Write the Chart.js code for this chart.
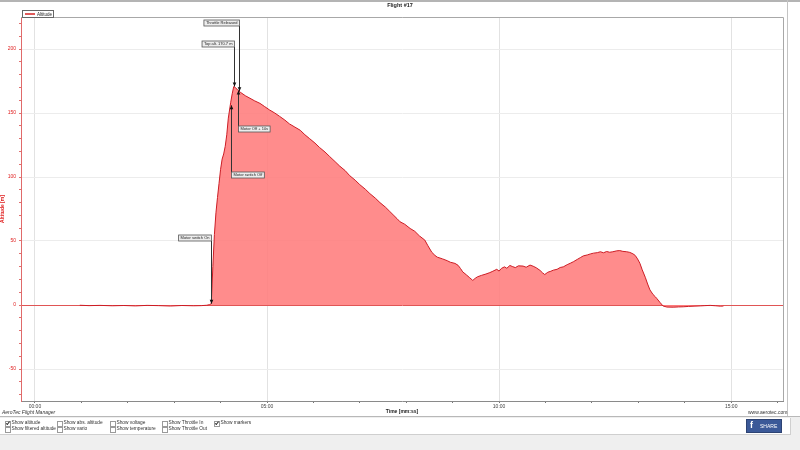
<!DOCTYPE html>
<html><head><meta charset="utf-8">
<script src="https://cdn.jsdelivr.net/npm/chart.js@4.4.0/dist/chart.umd.min.js"></script>
<style>
html,body{margin:0;padding:0;width:800px;height:450px;overflow:hidden;background:#fff;font-family:"Liberation Sans",Arial,sans-serif;}
#c{position:absolute;left:0;top:0;}
.t{position:absolute;white-space:nowrap;line-height:1;}
#topbar{position:absolute;left:0;top:0;width:800px;height:2px;background:#b4b4b4;}
#title{left:0;width:800px;text-align:center;top:3px;font-size:5.5px;font-weight:bold;color:#222;}
#legend{position:absolute;left:22px;top:10px;width:30px;height:6px;border:1px solid #666;background:#fff;}
#legend .sw{position:absolute;left:2px;top:2px;width:10px;height:2px;background:#e05a5a;}
#legend .lt{position:absolute;left:14px;top:0.5px;font-size:4.5px;color:#222;}
#rline{position:absolute;left:787px;top:0;width:1px;height:416px;background:#c4c4c4;}
#brand{left:2px;top:410px;font-size:5px;font-style:italic;color:#333;}
#www{left:748px;top:410px;font-size:5px;color:#333;}
#panel{position:absolute;left:0;top:416px;width:800px;height:34px;background:#efefef;border-top:1px solid #b8b8b8;}
#cb{position:absolute;left:0;top:1px;width:790px;height:16px;background:#fff;border-bottom:1px solid #cfcfcf;border-right:1px solid #cfcfcf;}
.ck{position:absolute;width:4px;height:4px;border:1px solid #9a9a9a;background:#fff;}
.ck.on::after{content:"";position:absolute;left:1px;top:-0.5px;width:1.2px;height:2.6px;border:solid #333;border-width:0 1px 1px 0;transform:rotate(40deg);}
.cl{position:absolute;font-size:4.8px;color:#333;white-space:nowrap;line-height:1;}
#fb{position:absolute;left:746px;top:419px;width:34px;height:12px;background:#3b5998;border:1px solid #2d4373;}
#fb .f{position:absolute;left:3px;top:1px;font-size:9px;font-weight:bold;color:#fff;font-family:"Liberation Sans",Arial,sans-serif;line-height:1;}
#fb .s{position:absolute;left:13px;top:3.5px;font-size:5px;color:#fff;line-height:1;}
</style></head>
<body>
<div id="topbar"></div>
<canvas id="c" width="800" height="416"></canvas>
<div class="t" id="title">Flight #17</div>
<div id="legend"><div class="sw"></div><div class="lt">Altitude</div></div>
<div id="rline"></div>
<div class="t" id="brand">AeroTec Flight Manager</div>
<div class="t" id="www">www.aerotec.com</div>
<div id="panel"><div id="cb"></div></div>
<div id="fb"><span class="f">f</span><span class="s">SHARE</span></div>
<script>
// ---------------- data ----------------
const times = [58,70,84,100,115,130,145,160,175,190,205,215,222,226,228,
  230,232,234,236,238,240,242,244,246,248,250,251,253,255,257,
  259,262,266,272,278,284,291,297,303,310,316,323,329,336,343,349,355,362,368,375,381,388,394,401,407,414,420,427,433,440,446,453,458,463,468,472,
  478,485,491,497,504,508,513,517,520,527,533,537,543,547,550,553,558,562,566,569,572,577,583,588,592,597,600,603,607,610,614,617,621,625,631,635,640,644,648,653,656,659,
  663,667,670,675,679,683,688,692,696,701,705,709,714,718,722,727,731,735,739,743,747,752,756,760,765,769,773,776,779,782,785,789,792,795,799,802,804,808,812,817,825,832,838,845,852,860,866,873,880,886,890];
const altitude = [-0.2,-0.5,-0.3,-0.6,-0.4,-0.7,-0.3,-0.5,-0.8,-0.4,-0.6,-0.5,-0.2,0.3,1.2,
  30,55,72,84,95,106,114,118,124,133,146,150,158,165,170.7,
  170,168,166,163.5,161.5,159.5,157.5,155,152.5,150,147.5,144.5,141.5,139,136.5,133,130,126.5,123,119.5,116,112,108.5,105,101,97.5,94,90.5,87,83.5,80,76.5,73.5,70.5,67.5,65,
  63.1,59.8,57.6,54.0,50.7,46.3,41.2,38.8,37.4,36.0,34.6,33.4,32.5,31.0,28.6,25.9,23.4,21.3,19.2,20.8,22.0,23.1,24.2,25.3,26.4,27.9,26.5,28.6,29.8,28.7,30.9,30.1,29.2,30.6,30.4,29.5,31.2,30.3,29.1,27.0,25.2,23.8,
  25.6,26.4,27.2,27.9,29.3,29.8,31.5,32.6,33.8,35.6,37.0,38.4,39.1,39.9,40.5,40.9,41.6,40.8,41.8,41.2,41.6,42.3,42.5,41.9,41.6,41.1,40.0,38.7,36.0,32.6,27.5,21.6,16.4,11.8,8.2,6.4,5.0,2.0,-0.8,-1.6,-1.7,-1.5,-1.4,-1.1,-0.9,-0.7,-0.5,-0.3,-0.6,-0.9,-0.8];

const markerTimes  = [228, 253, 263, 257, 264];
const markerAlts   = [1, 156, 167.5, 170.7, 167];
const markerLabels = ['Motor switch On', 'Motor switch Off', 'Motor Off + 10s', 'Top alt. 170.7 m', 'Throttle Released'];

const xLabelTicks = [0, 300, 600, 900];       // labelled time ticks (s)
const yLabelTicks = [-50, 0, 50, 100, 150, 200];

// ---------------- layout / style (not data) ----------------
const markerBoxY    = [238, 175, 129, 44, 23];
const markerBoxSide = ['left', 'right', 'right', 'left', 'left'];

// checkboxes panel
const cbItems = [
  ['Show altitude', true, 5, 421], ['Show abs. altitude', false, 57, 421], ['Show voltage', false, 110, 421], ['Show Throttle In', false, 162, 421], ['Show markers', true, 214, 421],
  ['Show filtered altitude', false, 5, 427], ['Show vario', false, 57, 427], ['Show temperature', false, 110, 427], ['Show Throttle Out', false, 162, 427]
];
const cb = document.body;
cbItems.forEach(([txt, on, x, y]) => {
  const b = document.createElement('div'); b.className = 'ck' + (on ? ' on' : '');
  b.style.left = x + 'px'; b.style.top = (y - 0.5) + 'px'; cb.appendChild(b);
  const l = document.createElement('div'); l.className = 'cl'; l.textContent = txt;
  l.style.left = (x + 6.5) + 'px'; l.style.top = (y) + 'px'; cb.appendChild(l);
});

function mmss(v) {
  const m = Math.floor(v / 60), s = Math.round(v % 60);
  return String(m).padStart(2, '0') + ':' + String(s).padStart(2, '0');
}

const points = times.map((t, i) => ({ x: t, y: altitude[i] }));

const frame = {
  id: 'frame',
  beforeDatasetsDraw(chart) {
    const { ctx, chartArea: a } = chart;
    ctx.save();
    ctx.strokeStyle = '#a8a8a8'; ctx.lineWidth = 1;
    ctx.beginPath();
    ctx.moveTo(a.left, a.top + 0.5); ctx.lineTo(a.right + 0.5, a.top + 0.5);
    ctx.lineTo(a.right + 0.5, a.bottom);
    ctx.stroke();
    ctx.restore();
  }
};

const markers = {
  id: 'markers',
  afterDatasetsDraw(chart) {
    const { ctx } = chart;
    const xs = chart.scales.x, ys = chart.scales.y;
    ctx.save();
    ctx.font = '4px "Liberation Sans", Arial, sans-serif';
    ctx.textBaseline = 'middle';
    markerTimes.forEach((t, i) => {
      const px = Math.round(xs.getPixelForValue(t)) + 0.5;
      const py = ys.getPixelForValue(markerAlts[i]);
      const txt = markerLabels[i];
      const w = ctx.measureText(txt).width + 4, h = 6;
      const cy = markerBoxY[i];
      const bx = markerBoxSide[i] === 'left' ? px - w : px;
      const by = cy - h / 2;
      const above = cy < py;
      const y0 = above ? by + h : by;
      ctx.strokeStyle = '#333'; ctx.lineWidth = 1;
      ctx.beginPath(); ctx.moveTo(px, y0); ctx.lineTo(px, py); ctx.stroke();
      ctx.fillStyle = '#111';
      ctx.beginPath();
      const d = above ? -1 : 1;
      ctx.moveTo(px, py); ctx.lineTo(px - 1.8, py + d * 4); ctx.lineTo(px + 1.8, py + d * 4); ctx.closePath(); ctx.fill();
      ctx.fillStyle = '#ededed'; ctx.fillRect(bx, by, w, h);
      ctx.strokeStyle = '#555'; ctx.lineWidth = 0.8; ctx.strokeRect(bx, by, w, h);
      ctx.fillStyle = '#222'; ctx.textAlign = 'left';
      ctx.fillText(txt, bx + 2, cy + 0.3);
    });
    ctx.restore();
  }
};

new Chart(document.getElementById('c'), {
  type: 'line',
  data: {
    datasets: [{
      label: 'Altitude',
      data: points,
      borderColor: '#cc1c24',
      borderWidth: 1,
      backgroundColor: 'rgba(255,128,128,0.9)',
      fill: 'origin',
      pointRadius: 0,
      tension: 0
    }]
  },
  options: {
    responsive: false,
    animation: false,
    devicePixelRatio: 1,
    layout: { padding: { left: 0, right: 17, top: 17, bottom: 1 } },
    plugins: { legend: { display: false }, title: { display: false }, tooltip: { enabled: false } },
    scales: {
      x: {
        type: 'linear', min: -18, max: 967,
        afterBuildTicks(s) { const a = []; for (let v = 0; v <= 960; v += 60) a.push({ value: v }); s.ticks = a; },
        afterFit(s) { s.height = 14; },
        border: { color: '#8a8a8a', width: 1 },
        grid: {
          color: c => xLabelTicks.includes(c.tick && c.tick.value) ? '#e2e2e2' : 'rgba(0,0,0,0)',
          tickColor: '#777', tickLength: 2, drawTicks: true
        },
        ticks: {
          autoSkip: false, maxRotation: 0, padding: 1, color: '#444',
          font: { size: 5, family: '"Liberation Sans", Arial, sans-serif' },
          callback: v => xLabelTicks.includes(v) ? mmss(v) : ''
        },
        title: { display: true, text: 'Time [mm:ss]', color: '#222', padding: { top: 0, bottom: 0 },
          font: { size: 5, weight: 'bold', family: '"Liberation Sans", Arial, sans-serif' } }
      },
      y: {
        type: 'linear', min: -75, max: 225,
        afterBuildTicks(s) { const a = []; for (let v = -70; v <= 220; v += 10) a.push({ value: v }); s.ticks = a; },
        afterFit(s) { s.width = 21; },
        border: { color: '#e06a6a', width: 1 },
        grid: {
          color: c => { const v = c.tick && c.tick.value; return v === 0 ? '#e05555' : (yLabelTicks.includes(v) ? '#ececec' : 'rgba(0,0,0,0)'); },
          tickColor: '#e07070', tickLength: 2
        },
        ticks: {
          autoSkip: false, padding: 3, color: '#e02020',
          font: { size: 5, family: '"Liberation Sans", Arial, sans-serif' },
          callback: v => yLabelTicks.includes(v) ? String(v) : ''
        },
        title: { display: true, text: 'Altitude [m]', color: '#e02020', padding: 0,
          font: { size: 5, weight: 'bold', family: '"Liberation Sans", Arial, sans-serif' } }
      }
    }
  },
  plugins: [frame, markers]
});
</script>
</body></html>
